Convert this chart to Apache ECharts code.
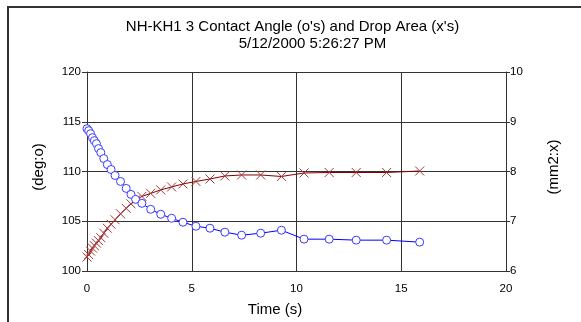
<!DOCTYPE html>
<html>
<head>
<meta charset="utf-8">
<script src="https://cdn.jsdelivr.net/npm/echarts@6/dist/echarts.min.js"></script>
<style>
html,body{margin:0;padding:0;background:#fff;overflow:hidden;width:581px;height:322px;}
#chart{width:581px;height:322px;overflow:hidden;}
</style>
</head>
<body>
<div id="chart"></div>
<script>
// Time (s) of each measurement
const timeSec = [0, 0.08, 0.17, 0.26, 0.35, 0.45, 0.55, 0.66, 0.8, 0.97, 1.15, 1.34, 1.6, 1.87, 2.1, 2.32, 2.62, 3.04, 3.52, 4.04, 4.58, 5.2, 5.87, 6.58, 7.38, 8.29, 9.28, 10.36, 11.56, 12.85, 14.3, 15.88];
// Contact angle (deg) - o's, left axis
const contactAngle = [114.3, 114.1, 113.8, 113.4, 113.1, 112.8, 112.3, 111.9, 111.3, 110.7, 110.2, 109.6, 109.0, 108.3, 107.7, 107.2, 106.8, 106.2, 105.7, 105.3, 104.9, 104.5, 104.3, 103.9, 103.6, 103.8, 104.1, 103.2, 103.2, 103.1, 103.1, 102.9];
// Drop area (mm2) - x's, right axis
const dropArea = [6.28, 6.33, 6.40, 6.46, 6.51, 6.56, 6.61, 6.67, 6.76, 6.86, 6.94, 7.03, 7.15, 7.26, 7.35, 7.43, 7.50, 7.56, 7.63, 7.69, 7.75, 7.80, 7.85, 7.91, 7.93, 7.93, 7.90, 7.97, 7.98, 7.98, 7.98, 8.01];

const titleLine1 = "NH-KH1 3 Contact Angle (o's) and Drop Area (x's)";
const titleLine2 = "5/12/2000 5:26:27 PM";
const xName = "Time (s)";
const yLeftName = "(deg:o)";
const yRightName = "(mm2:x)";

const FONT = '"Liberation Sans", Arial, sans-serif';
const GRID = '#333';

const chart = echarts.init(document.getElementById('chart'), null, {renderer: 'canvas', width: 581, height: 322});
chart.setOption({
  animation: false,
  backgroundColor: '#fff',
  textStyle: {fontFamily: FONT, color: '#000'},
  graphic: [
    {type: 'line', shape: {x1: 8, y1: 7, x2: 8, y2: 322}, style: {stroke: '#333', lineWidth: 2}, silent: true},
    {type: 'line', shape: {x1: 7, y1: 7, x2: 581, y2: 7}, style: {stroke: '#333', lineWidth: 2}, silent: true},
    {type: 'rect', shape: {x: 568, y: 9, width: 13, height: 313}, style: {fill: '#fff'}, z: 100, silent: true},
    {type: 'text', x: 292.5, y: 27, style: {text: titleLine1, font: '15px ' + FONT, fill: '#000', align: 'center', verticalAlign: 'middle', textAlign: 'center', textVerticalAlign: 'middle'}},
    {type: 'text', x: 312.5, y: 44, style: {text: titleLine2, font: '15px ' + FONT, fill: '#000', align: 'center', verticalAlign: 'middle', textAlign: 'center', textVerticalAlign: 'middle'}}
  ],
  grid: {left: 87, top: 72, width: 419, height: 200, containLabel: false},
  xAxis: {
    type: 'value', min: 0, max: 20, interval: 5,
    name: xName, nameLocation: 'middle', nameGap: 31,
    nameTextStyle: {fontSize: 15, color: '#000', fontFamily: FONT, padding: [0, 43, 0, 0]},
    axisLine: {show: true, lineStyle: {color: GRID, width: 1}},
    axisTick: {show: false},
    axisLabel: {fontSize: 11.5, color: '#000', margin: 12, fontFamily: FONT},
    splitLine: {show: true, lineStyle: {color: GRID, width: 1}}
  },
  yAxis: [
    {
      type: 'value', min: 100, max: 120, interval: 5, position: 'left',
      name: yLeftName, nameLocation: 'middle', nameGap: 41,
      nameTextStyle: {fontSize: 15, color: '#000', fontFamily: FONT, padding: [0, 0, 0, 9]},
      axisLine: {show: true, lineStyle: {color: GRID, width: 1}},
      axisTick: {show: true, inside: false, length: 5, lineStyle: {color: GRID}},
      axisLabel: {fontSize: 11.5, color: '#000', margin: 6, fontFamily: FONT},
      splitLine: {show: true, lineStyle: {color: GRID, width: 1}}
    },
    {
      type: 'value', min: 6, max: 10, interval: 1, position: 'right',
      name: yRightName, nameLocation: 'middle', nameGap: 40,
      nameTextStyle: {fontSize: 15, color: '#000', fontFamily: FONT, padding: [0, 0, 0, 9]},
      axisLine: {show: true, lineStyle: {color: GRID, width: 1}},
      axisTick: {show: true, inside: false, length: 4, lineStyle: {color: GRID}},
      axisLabel: {fontSize: 11.5, color: '#000', margin: 4, fontFamily: FONT},
      splitLine: {show: false}
    }
  ],
  series: [
    {
      type: 'line', name: 'Drop Area', yAxisIndex: 1,
      data: timeSec.map((t, i) => [t, dropArea[i]]),
      symbol: 'path://M0,0L10,10M10,0L0,10', symbolSize: 9, showAllSymbol: true,
      lineStyle: {color: '#800000', width: 1},
      itemStyle: {color: '#a83838', borderColor: '#a83838', borderWidth: 1},
      z: 2
    },
    {
      type: 'line', name: 'Contact Angle', yAxisIndex: 0,
      data: timeSec.map((t, i) => [t, contactAngle[i]]),
      symbol: 'circle', symbolSize: 8, showAllSymbol: true,
      lineStyle: {color: '#0000ff', width: 1},
      itemStyle: {color: '#ffffff', borderColor: '#3a3aff', borderWidth: 1},
      z: 3
    }
  ]
});
</script>
</body>
</html>
